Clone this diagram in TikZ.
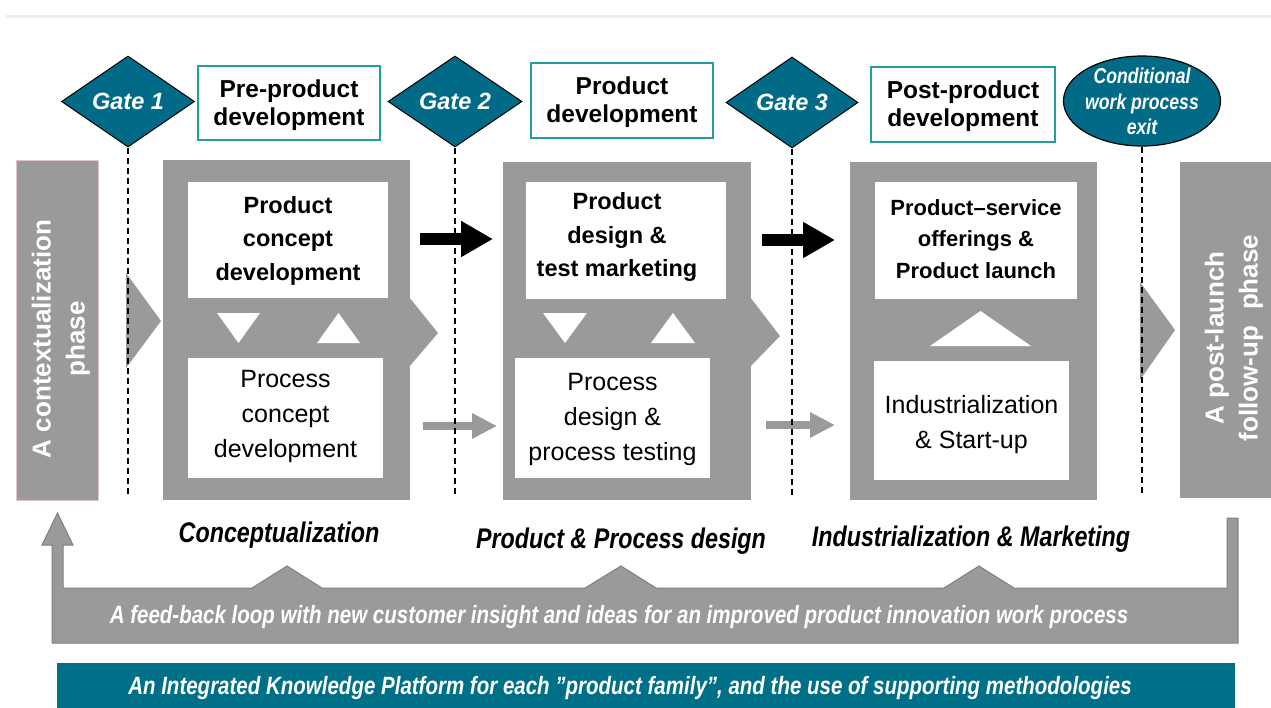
\documentclass[tikz,border=0pt]{standalone}
\usepackage{fontspec}
\setmainfont{Liberation Sans}
\newfontfamily\narrowsf[FakeStretch=0.82]{Liberation Sans}
\usetikzlibrary{shapes.geometric,arrows.meta}

\definecolor{gatefill}{RGB}{0,106,135}
\definecolor{boxteal}{RGB}{34,158,160}
\definecolor{framegray}{RGB}{153,154,153}
\definecolor{edgegray}{RGB}{128,128,128}
\definecolor{bandteal}{RGB}{0,111,136}
\definecolor{rulegray}{RGB}{236,236,236}
\definecolor{barpink}{RGB}{222,200,200}

% centred lines, moved sideways by #1 (kern) and raised by #2
\newcommand\placedlines[3]{\kern#1\raisebox{#2}[\height][\depth]{\begin{tabular}{@{}c@{}}#3\end{tabular}}}

\begin{document}
\begin{tikzpicture}[x=1pt,y=-1pt,
  gate/.style={diamond, fill=gatefill, draw=black, line width=1pt, inner sep=0pt,
    text=white, font=\fontsize{23.5}{26}\selectfont\bfseries\itshape},
  exitnode/.style={ellipse, fill=gatefill, draw=black, line width=1.2pt, inner sep=-20pt,
    text=white, font=\narrowsf\fontsize{21.5}{25.5}\selectfont\bfseries\itshape},
  stagebox/.style={draw=boxteal, line width=2pt, fill=white, inner sep=0pt,
    font=\fontsize{24.5}{28}\selectfont\bfseries},
  frame/.style={fill=framegray, draw=none, inner sep=0pt},
  phasebar/.style={fill=framegray, draw=barpink, line width=0.6pt, inner sep=0pt},
  phasetext/.style={text=white, rotate=90, align=center, font=\fontsize{26}{34}\selectfont\bfseries},
  innerbold/.style={fill=white, inner sep=0pt, font=\fontsize{23.5}{33.5}\selectfont\bfseries},
  innerplain/.style={fill=white, inner sep=0pt, font=\fontsize{25}{35}\selectfont},
  stagelabel/.style={font=\narrowsf\fontsize{28.4}{31}\selectfont\bfseries\itshape},
  bandtext/.style={text=white, font=\narrowsf\fontsize{25}{28}\selectfont\bfseries\itshape},
  gateline/.style={draw=black, line width=1.6pt, dash pattern=on 6pt off 4pt},
  mainflow/.style={draw=black, line width=12pt, -{Triangle[length=32pt,width=34pt]}},
  sideflow/.style={draw=framegray, line width=8pt, -{Triangle[length=25pt,width=24pt]}},
  chevron/.style={fill=framegray, draw=none},
  notch/.style={fill=white, draw=none}
]
\useasboundingbox (0,0) rectangle (1271,707);

% thin rule along the top
\draw[rulegray, line width=3pt] (6,16) -- (1271,16);

% gates, stage titles and the exit ellipse
\node[gate, minimum width=133pt, minimum height=91pt] (g1) at (128,101.5) {Gate 1};
\node[gate, minimum width=134pt, minimum height=91pt] (g2) at (455,101.5) {Gate 2};
\node[gate, minimum width=132pt, minimum height=91pt] (g3) at (792,102.5) {Gate 3};
\node[exitnode, minimum width=157pt, minimum height=90pt] (ex) at (1142,101)
  {\placedlines{0pt}{-3pt}{Conditional\\work process\\exit}};

\node[stagebox, minimum width=182pt, minimum height=74pt] (pre) at (289,103)
  {\placedlines{0pt}{-2.5pt}{Pre-product\\development}};
\node[stagebox, minimum width=182pt, minimum height=75pt] (pd) at (622,100.5)
  {\placedlines{0pt}{-2.5pt}{Product\\development}};
\node[stagebox, minimum width=184pt, minimum height=75pt] (post) at (963,104.5)
  {\placedlines{0pt}{-2.5pt}{Post-product\\development}};

% side phase bars
\node[phasebar, minimum width=82pt, minimum height=340pt] (lb) at (57,330) {};
\node[phasetext] (lbt) at (61,339) {A contextualization\\phase};
\node[frame, minimum width=91pt, minimum height=336pt] (rb) at (1225.5,330) {};
\node[phasetext] (rbt) at (1234,338) {A post-launch\\follow-up\hspace{0.3em}\hspace{0.3em}phase};

% grey stage frames with their chevrons
\node[frame, minimum width=247pt, minimum height=340pt] (f1) at (286.5,330) {};
\node[frame, minimum width=248pt, minimum height=338pt] (f2) at (627,331) {};
\node[frame, minimum width=247pt, minimum height=338pt] (f3) at (973.5,331) {};
\fill[chevron] (126,273) -- (161,321) -- (126,368) -- cycle;
\fill[chevron] (409,297) -- (438,333) -- (409,367) -- cycle;
\fill[chevron] (750,297) -- (780,336) -- (750,367) -- cycle;
\fill[chevron] (1140,282) -- (1175,330) -- (1140,380) -- cycle;

% activities inside the frames
\node[innerbold, minimum width=200pt, minimum height=116pt] (b1t) at (288,240)
  {\placedlines{0pt}{0pt}{Product\\concept\\development}};
\node[innerplain, minimum width=195pt, minimum height=120pt] (b1b) at (285.5,418)
  {\placedlines{0pt}{3pt}{Process\\concept\\development}};
\node[innerbold, minimum width=200pt, minimum height=117pt] (b2t) at (626,240.5)
  {\placedlines{-18pt}{4pt}{Product\\design \&\\test marketing}};
\node[innerplain, minimum width=195pt, minimum height=120pt] (b2b) at (612.5,418)
  {\placedlines{0pt}{0pt}{Process\\design \&\\process testing}};
\node[innerbold, minimum width=202pt, minimum height=117pt, font=\fontsize{22}{31.5}\selectfont\bfseries] (b3t) at (976,240.5)
  {\placedlines{0pt}{0pt}{Product–service\\offerings \&\\Product launch}};
\node[innerplain, minimum width=195pt, minimum height=119pt] (b3b) at (971.5,420.5)
  {\placedlines{0pt}{-3pt}{Industrialization\\\& Start-up}};

% white exchange triangles between the activities
\fill[notch] (217,313) -- (260,313) -- (238.5,343) -- cycle;
\fill[notch] (317,343) -- (360,343) -- (338.5,313) -- cycle;
\fill[notch] (543,313) -- (587,313) -- (565,343) -- cycle;
\fill[notch] (651,343) -- (695,343) -- (673,313) -- cycle;
\fill[notch] (930,346) -- (1031,346) -- (980.5,311) -- cycle;

% flow arrows between the stages
\coordinate (ma1s) at (420,239);
\coordinate (ma1e) at (493,239);
\coordinate (ma2s) at (762,240);
\coordinate (ma2e) at (835,240);
\coordinate (sa1s) at (423,426);
\coordinate (sa1e) at (497,426);
\coordinate (sa2s) at (766,425);
\coordinate (sa2e) at (835,425);
\draw[mainflow] (ma1s) -- (ma1e);
\draw[mainflow] (ma2s) -- (ma2e);
\draw[sideflow] (sa1s) -- (sa1e);
\draw[sideflow] (sa2s) -- (sa2e);

% gate lines
\coordinate (lineend) at (0,496);
\draw[gateline] (g1.south) -- (g1.south |- lineend);
\draw[gateline] (g2.south) -- (g2.south |- lineend);
\draw[gateline] (g3.south) -- (g3.south |- lineend);
\draw[gateline] (ex.south) -- (ex.south |- lineend);

% stage names
\node[stagelabel] (l1) at (279,535) {Conceptualization};
\node[stagelabel] (l2) at (621,541) {Product \& Process design};
\node[stagelabel] (l3) at (971,539) {Industrialization \& Marketing};

% feed-back loop from the post-launch phase back to the start
\filldraw[fill=framegray, draw=edgegray, line width=1pt]
  (52,643) -- (52,545) -- (42,545) -- (57.5,513) -- (73,545) -- (63,545) -- (63,588)
  -- (252,588) -- (287,566) -- (322,588)
  -- (585,588) -- (621,566) -- (656,588)
  -- (944,588) -- (979,566) -- (1014,588)
  -- (1227,588) -- (1227,518) -- (1238,518) -- (1238,643) -- cycle;
\node[bandtext] (fb) at (619,617) {A feed-back loop with new customer insight and ideas for an improved product innovation work process};

% knowledge platform
\node[fill=bandteal, inner sep=0pt, minimum width=1178pt, minimum height=50pt] (kp) at (646,688) {};
\node[bandtext] (kpt) at (630,688) {An Integrated Knowledge Platform for each ”product family”, and the use of supporting methodologies};
\end{tikzpicture}
\end{document}
